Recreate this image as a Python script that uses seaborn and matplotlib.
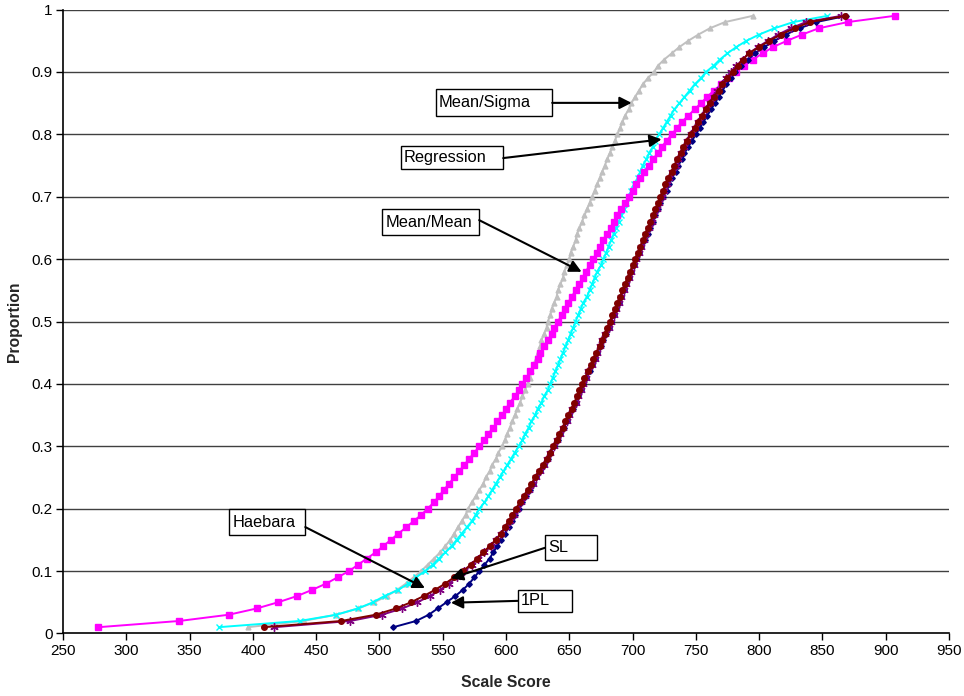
import matplotlib
matplotlib.use("Agg")
import matplotlib.pyplot as plt
import seaborn as sns
import pandas as pd
from matplotlib.patches import Rectangle

proportion = [0.01, 0.02, 0.03, 0.04, 0.05, 0.06, 0.07, 0.08, 0.09, 0.10,
              0.11, 0.12, 0.13, 0.14, 0.15, 0.16, 0.17, 0.18, 0.19, 0.20,
              0.21, 0.22, 0.23, 0.24, 0.25, 0.26, 0.27, 0.28, 0.29, 0.30,
              0.31, 0.32, 0.33, 0.34, 0.35, 0.36, 0.37, 0.38, 0.39, 0.40,
              0.41, 0.42, 0.43, 0.44, 0.45, 0.46, 0.47, 0.48, 0.49, 0.50,
              0.51, 0.52, 0.53, 0.54, 0.55, 0.56, 0.57, 0.58, 0.59, 0.60,
              0.61, 0.62, 0.63, 0.64, 0.65, 0.66, 0.67, 0.68, 0.69, 0.70,
              0.71, 0.72, 0.73, 0.74, 0.75, 0.76, 0.77, 0.78, 0.79, 0.80,
              0.81, 0.82, 0.83, 0.84, 0.85, 0.86, 0.87, 0.88, 0.89, 0.90,
              0.91, 0.92, 0.93, 0.94, 0.95, 0.96, 0.97, 0.98, 0.99]

mean_sigma = [396, 440, 466, 483, 496, 506, 514, 521, 527, 533,
              538, 543, 548, 552, 556, 559, 562, 565, 568, 570,
              573, 576, 579, 582, 584, 587, 589, 592, 594, 597,
              599, 601, 603, 605, 607, 609, 611, 613, 615, 617,
              619, 620, 622, 624, 625, 627, 628, 630, 632, 633,
              635, 636, 638, 640, 641, 643, 645, 646, 648, 650,
              651, 653, 655, 656, 658, 660, 662, 664, 666, 668,
              670, 672, 674, 676, 678, 680, 682, 684, 686, 688,
              690, 692, 694, 697, 699, 702, 705, 708, 712, 717,
              720, 725, 731, 737, 744, 752, 761, 773, 795]

regression = [373, 437, 466, 483, 495, 504, 515, 523, 529, 536,
              542, 547, 552, 557, 561, 565, 569, 573, 576, 579,
              583, 586, 589, 592, 595, 598, 601, 604, 607, 610,
              613, 615, 618, 620, 623, 625, 628, 630, 633, 635,
              637, 639, 641, 643, 645, 647, 649, 651, 653, 655,
              657, 659, 661, 664, 666, 668, 670, 672, 675, 677,
              679, 681, 683, 685, 687, 689, 691, 693, 695, 697,
              699, 701, 704, 706, 708, 711, 713, 716, 718, 721,
              724, 727, 730, 733, 737, 741, 745, 749, 754, 758,
              764, 769, 775, 782, 790, 800, 812, 827, 854]

mean_mean = [278, 342, 381, 403, 420, 435, 447, 458, 467, 476,
             483, 490, 497, 503, 509, 515, 521, 527, 533, 538,
             543, 547, 551, 555, 559, 563, 567, 571, 575, 579,
             583, 586, 590, 593, 597, 600, 603, 607, 610, 613,
             616, 619, 622, 625, 627, 630, 633, 636, 638, 641,
             644, 647, 649, 652, 655, 658, 661, 663, 666, 669,
             672, 674, 677, 680, 683, 685, 688, 691, 694, 697,
             700, 703, 706, 709, 713, 716, 720, 723, 727, 731,
             735, 739, 744, 749, 754, 759, 764, 770, 776, 782,
             788, 795, 803, 811, 822, 834, 847, 870, 907]

haebara = [409, 470, 497, 513, 525, 535, 544, 552, 559, 566,
           572, 577, 582, 587, 592, 596, 599, 602, 605, 608,
           611, 614, 617, 620, 623, 626, 629, 632, 635, 637,
           640, 642, 645, 647, 649, 652, 654, 656, 658, 660,
           662, 665, 667, 669, 671, 674, 676, 678, 680, 682,
           684, 686, 688, 690, 692, 694, 696, 698, 700, 702,
           704, 706, 708, 710, 712, 714, 716, 718, 720, 722,
           724, 726, 728, 731, 733, 735, 738, 740, 743, 746,
           749, 752, 755, 758, 761, 764, 768, 771, 775, 779,
           783, 787, 792, 800, 808, 817, 828, 840, 868]

sl = [417, 477, 502, 518, 530, 540, 548, 555, 561, 567,
      573, 578, 583, 588, 592, 596, 600, 603, 606, 609,
      612, 615, 618, 621, 624, 627, 630, 632, 635, 638,
      640, 643, 645, 648, 650, 652, 655, 657, 659, 661,
      663, 665, 668, 670, 672, 674, 676, 678, 681, 683,
      685, 687, 689, 691, 693, 695, 697, 699, 701, 703,
      705, 707, 709, 711, 713, 715, 717, 719, 721, 723,
      725, 727, 729, 731, 734, 736, 738, 741, 743, 746,
      749, 752, 755, 758, 761, 764, 767, 771, 774, 778,
      782, 787, 792, 799, 807, 815, 825, 837, 865]

one_pl = [511, 529, 539, 546, 553, 560, 566, 571, 575, 579,
          583, 587, 590, 593, 596, 599, 602, 605, 607, 610,
          613, 616, 619, 621, 624, 627, 630, 633, 635, 638,
          641, 643, 646, 648, 650, 653, 655, 657, 659, 661,
          663, 666, 668, 670, 672, 675, 677, 679, 681, 683,
          685, 687, 689, 691, 693, 695, 697, 699, 701, 703,
          705, 707, 710, 712, 714, 716, 718, 720, 722, 724,
          727, 729, 731, 734, 736, 739, 741, 744, 747, 750,
          753, 756, 759, 762, 765, 768, 771, 774, 778, 781,
          786, 791, 797, 804, 812, 821, 832, 845, 869]

methods = ["Mean/Sigma", "Regression", "Mean/Mean", "1PL", "SL", "Haebara"]
scores = [mean_sigma, regression, mean_mean, one_pl, sl, haebara]

x_ticks = [250, 300, 350, 400, 450, 500, 550, 600, 650, 700, 750, 800, 850, 900, 950]
y_ticks = [0, 0.1, 0.2, 0.3, 0.4, 0.5, 0.6, 0.7, 0.8, 0.9, 1.0]
y_tick_labels = ["0", "0.1", "0.2", "0.3", "0.4", "0.5", "0.6", "0.7", "0.8", "0.9", "1"]

df = pd.DataFrame({
    "method": [m for m, s in zip(methods, scores) for _ in s],
    "score": [v for s in scores for v in s],
    "proportion": [p for s in scores for p in proportion],
})

sns.set_theme(style="white")
plt.rcParams["font.family"] = ["Liberation Sans", "DejaVu Sans"]

styles = {
    "Mean/Sigma": dict(color="#C0C0C0", marker="^", ms=3.5),
    "Regression": dict(color="#00FFFF", marker="x", ms=3.8),
    "Mean/Mean": dict(color="#FF00FF", marker="s", ms=3.8),
    "1PL": dict(color="#000080", marker="D", ms=2.8),
    "SL": dict(color="#800080", marker=(6, 2, 0), ms=6.0),
    "Haebara": dict(color="#800000", marker="o", ms=4.0),
}

fig = plt.figure(figsize=(9.64, 6.96), dpi=100)
ax = fig.add_axes([0.0654, 0.0899, 0.9190, 0.8963])

for m in methods:
    st = styles[m]
    sub = df[df["method"] == m]
    sns.lineplot(data=sub, x="score", y="proportion", ax=ax, color=st["color"],
                 marker=st["marker"], markersize=st["ms"], markeredgecolor=st["color"],
                 markerfacecolor=st["color"], markeredgewidth=1.0, linewidth=1.4,
                 estimator=None, sort=False, legend=False, zorder=3)

ax.set_xlim(250, 950)
ax.set_ylim(0, 1)
ax.set_xticks(x_ticks)
ax.set_xticklabels([str(t) for t in x_ticks])
ax.set_yticks(y_ticks)
ax.set_yticklabels(y_tick_labels)
ax.tick_params(axis="both", labelsize=11, colors="black", length=5, width=1,
               direction="out", pad=2.5)
ax.tick_params(axis="x", bottom=True)
ax.tick_params(axis="y", left=True)
for yv in y_ticks[1:]:
    ax.axhline(yv, color="#404040", lw=1.0, zorder=1)
for s in ["top", "right"]:
    ax.spines[s].set_visible(False)
for s in ["left", "bottom"]:
    ax.spines[s].set_color("black")
    ax.spines[s].set_linewidth(1.2)

ax.set_xlabel("Scale Score", fontsize=11.3, fontweight="bold", labelpad=12)
ax.set_ylabel("Proportion", fontsize=11.3, fontweight="bold", labelpad=7)

# annotation boxes: (label, box x0, x1, y0, y1, arrow start, arrow tip)
notes = [
    ("Mean/Sigma", 544.4, 636.5, 0.829, 0.872, (636.5, 0.8505), (699.2, 0.8505)),
    ("Regression", 516.7, 597.8, 0.744, 0.782, (597.8, 0.762), (722.9, 0.792)),
    ("Mean/Mean", 502.2, 578.8, 0.638, 0.680, (578.8, 0.6625), (659.7, 0.5797)),
    ("Haebara", 381.4, 441.4, 0.158, 0.199, (441.4, 0.1705), (535.9, 0.0728)),
    ("SL", 630.7, 671.6, 0.118, 0.157, (630.7, 0.1372), (556.5, 0.0883)),
    ("1PL", 609.2, 652.3, 0.035, 0.070, (609.2, 0.0522), (556.5, 0.0492)),
]
for label, x0, x1, y0, y1, start, tip in notes:
    ax.add_patch(Rectangle((x0, y0), x1 - x0, y1 - y0, facecolor="white",
                           edgecolor="black", lw=1.0, zorder=5))
    ax.text(x0 + 2.5, (y0 + y1) / 2, label, ha="left", va="center",
            fontsize=11.8, color="black", zorder=6)
    ax.annotate("", xy=tip, xytext=start,
                arrowprops=dict(arrowstyle="-|>,head_length=0.55,head_width=0.28",
                                color="black", lw=1.5, mutation_scale=13,
                                shrinkA=0, shrinkB=0), zorder=6)

fig.savefig("out.png", dpi=100)
